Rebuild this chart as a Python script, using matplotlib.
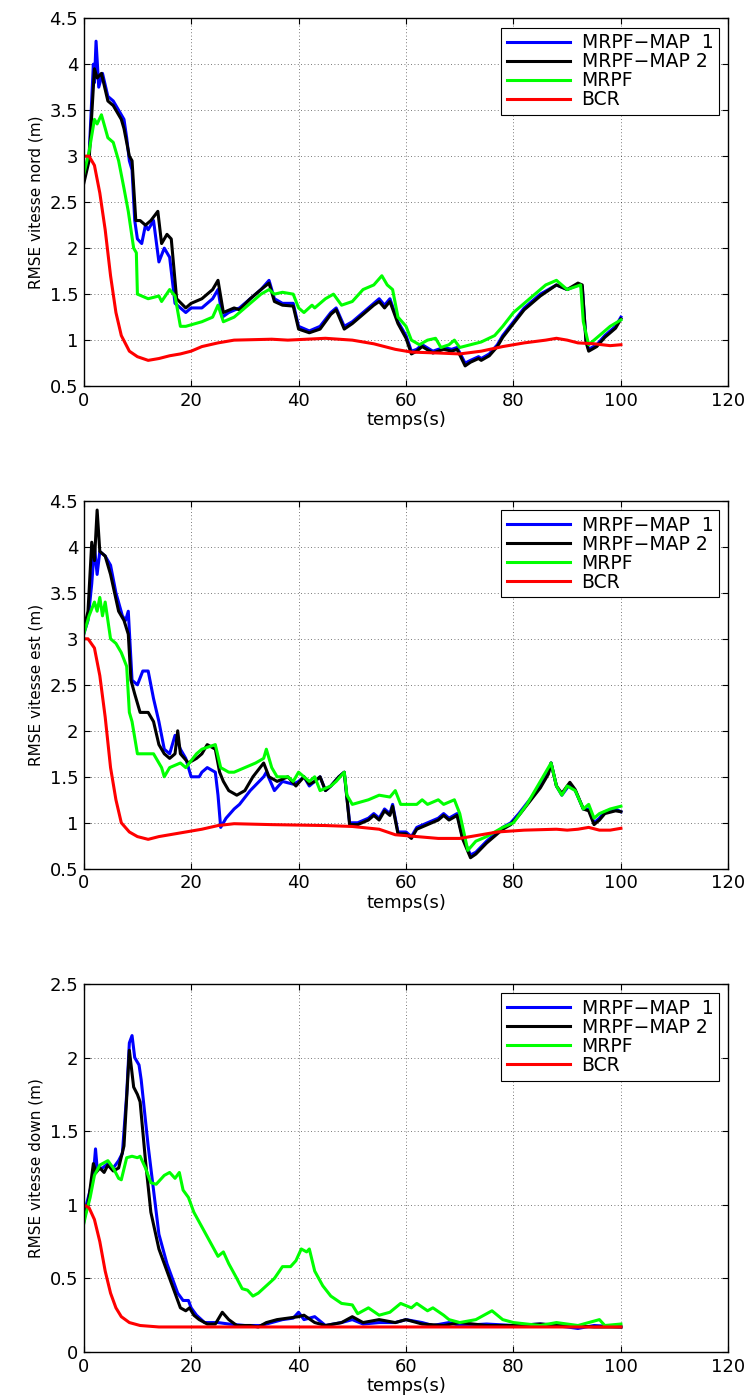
import matplotlib
matplotlib.use('Agg')
import matplotlib.pyplot as plt

plt.rcParams['font.family'] = ['DejaVu Sans']
plt.rcParams['font.size'] = 13

labels = ['MRPF\u2212MAP  1', 'MRPF\u2212MAP 2', 'MRPF', 'BCR']
colors = ['#0000ff', '#000000', '#00ff00', '#ff0000']

# ---- vitesse nord ----
n_map1_t = [0, 1, 1.8, 2.0, 2.3, 2.8, 3.5, 4.5, 5.5, 6.5, 7.5, 8, 8.5, 9, 9.5, 10, 10.8, 11.5, 12, 13, 14, 15, 16, 17, 19, 20, 22, 24, 25, 25.8, 27, 29, 31, 33, 34.5, 35.5, 37, 39, 40, 42, 44, 46, 47, 48.5, 50, 52, 54, 55, 56, 57, 58.5, 60, 61, 62, 63, 65, 67, 68.5, 69.5, 71, 72, 73.5, 74, 75.5, 77, 78, 80, 82, 85, 88, 90, 92, 92.8, 93.5, 94, 95.5, 97, 99, 100]
n_map1 = [2.75, 3.0, 4.0, 3.8, 4.25, 3.75, 3.9, 3.65, 3.6, 3.5, 3.4, 3.2, 2.95, 2.85, 2.3, 2.1, 2.05, 2.25, 2.2, 2.3, 1.85, 2.0, 1.9, 1.4, 1.3, 1.35, 1.35, 1.45, 1.55, 1.25, 1.3, 1.35, 1.45, 1.55, 1.65, 1.45, 1.4, 1.4, 1.15, 1.1, 1.15, 1.3, 1.35, 1.15, 1.2, 1.3, 1.4, 1.45, 1.38, 1.45, 1.2, 1.05, 0.88, 0.9, 0.95, 0.88, 0.92, 0.9, 0.92, 0.75, 0.78, 0.82, 0.8, 0.85, 0.95, 1.05, 1.2, 1.35, 1.5, 1.6, 1.55, 1.6, 1.58, 1.0, 0.9, 0.95, 1.05, 1.15, 1.25]
n_map2_t = [0, 1, 2, 2.5, 3.3, 4.5, 5.5, 7, 7.5, 8.5, 9, 9.7, 10.5, 11.5, 12.5, 13.8, 14.5, 15.5, 16.3, 17.3, 19, 20, 22, 24, 25, 26, 28, 29, 31, 33, 34.5, 35.5, 37, 39, 40, 42, 44, 46, 47, 48.5, 50, 52, 54, 55, 56, 57, 58.5, 60, 61, 62, 63, 65, 67, 68.5, 69.5, 71, 72, 73.5, 74, 75.5, 77, 78, 80, 82, 85, 88, 90, 92, 92.8, 93.5, 94, 95.5, 97, 99, 100]
n_map2 = [2.7, 2.95, 3.95, 3.85, 3.9, 3.6, 3.55, 3.4, 3.3, 3.0, 2.95, 2.3, 2.3, 2.25, 2.3, 2.4, 2.05, 2.15, 2.1, 1.45, 1.35, 1.4, 1.45, 1.55, 1.65, 1.3, 1.35, 1.33, 1.45, 1.55, 1.62, 1.42, 1.38, 1.37, 1.12, 1.08, 1.12, 1.28, 1.33, 1.12, 1.18, 1.28, 1.38, 1.42, 1.35, 1.42, 1.18, 1.02, 0.85, 0.88, 0.93, 0.86, 0.9, 0.88, 0.9, 0.72, 0.76, 0.8, 0.78, 0.83, 0.93, 1.03, 1.18, 1.33, 1.48, 1.6, 1.55, 1.62, 1.6, 0.98, 0.88, 0.93, 1.03, 1.13, 1.23]
n_mrpf_t = [0, 1, 2, 2.5, 3.3, 4.5, 5.5, 6.5, 7.5, 8.3, 9.3, 9.8, 10, 12, 14, 14.5, 16, 17, 18, 19, 22, 24, 25, 26, 28, 31, 33, 34.5, 35.5, 37, 39, 40, 41, 42.5, 43, 45, 46.5, 48, 50, 52, 54, 55.5, 56.5, 57.5, 58.5, 60, 61, 62.5, 64, 65.5, 66.5, 68, 69, 70, 72, 74, 76.5, 78, 80, 83, 86, 88, 90, 92.5, 93, 94, 96, 98, 100]
n_mrpf = [2.8, 3.05, 3.4, 3.35, 3.45, 3.2, 3.15, 2.95, 2.65, 2.4, 2.0, 1.95, 1.5, 1.45, 1.48, 1.42, 1.55, 1.48, 1.15, 1.15, 1.2, 1.25, 1.38, 1.2, 1.25, 1.4, 1.5, 1.55, 1.5, 1.52, 1.5, 1.35, 1.3, 1.38, 1.35, 1.45, 1.5, 1.38, 1.42, 1.55, 1.6, 1.7, 1.6, 1.55, 1.25, 1.15, 1.0, 0.95, 1.0, 1.02, 0.92, 0.95, 1.0, 0.92, 0.95, 0.98, 1.05, 1.15, 1.3, 1.45, 1.6, 1.65, 1.55, 1.6, 1.2, 0.95, 1.05, 1.15, 1.22]
n_bcr_t = [0, 1, 2, 3, 4, 5, 6, 7, 8.5, 10, 12, 14, 16, 18, 20, 22, 25, 28, 35, 38, 45, 50, 54, 58, 61, 66, 70, 74, 78, 82, 86, 88, 90, 92, 95, 98, 100]
n_bcr = [3.0, 3.0, 2.9, 2.6, 2.2, 1.7, 1.3, 1.05, 0.88, 0.82, 0.78, 0.8, 0.83, 0.85, 0.88, 0.93, 0.97, 1.0, 1.01, 1.0, 1.02, 1.0, 0.96, 0.9, 0.87, 0.86, 0.85, 0.88, 0.93, 0.97, 1.0, 1.02, 1.0, 0.97, 0.96, 0.94, 0.95]

# ---- vitesse est ----
e_map1_t = [0, 0.8, 1.5, 2, 2.5, 3, 4, 5, 6, 7.2, 7.8, 8.3, 9, 10, 11, 12, 13, 14, 15, 16, 17, 18, 19, 20, 21.5, 22, 23, 24.5, 25, 25.5, 26.5, 28, 29, 31, 33.5, 34, 35.5, 37, 39, 40, 41, 42, 43, 44, 45, 46, 47.5, 48.5, 49.5, 51, 53, 54, 55, 56, 57, 57.5, 58.5, 60, 61, 62, 64, 66, 67, 68, 69.5, 70.5, 72, 73, 75, 78, 79.5, 81, 83, 85, 86.5, 87, 88, 89, 90.5, 91.5, 93, 94, 95, 96, 97, 99, 100]
e_map1 = [3.05, 3.2, 3.6, 4.0, 3.7, 3.95, 3.9, 3.8, 3.5, 3.25, 3.2, 3.3, 2.55, 2.5, 2.65, 2.65, 2.35, 2.1, 1.8, 1.75, 1.95, 1.8, 1.7, 1.5, 1.5, 1.55, 1.6, 1.55, 1.3, 0.95, 1.05, 1.15, 1.2, 1.35, 1.5, 1.55, 1.35, 1.45, 1.42, 1.45, 1.5, 1.4, 1.45, 1.5, 1.35, 1.4, 1.5, 1.55, 1.0, 1.0, 1.05, 1.1, 1.05, 1.15, 1.1, 1.2, 0.9, 0.9, 0.85, 0.95, 1.0, 1.05, 1.1, 1.05, 1.1, 0.85, 0.65, 0.68, 0.8, 0.95, 1.0, 1.1, 1.25, 1.4, 1.55, 1.65, 1.4, 1.3, 1.42, 1.35, 1.15, 1.15, 1.0, 1.05, 1.12, 1.15, 1.12]
e_map2_t = [0, 0.8, 1.5, 2, 2.5, 3, 4, 5, 6.5, 7.5, 8.3, 8.8, 9.5, 10.5, 12, 13, 14, 15, 16, 17, 17.5, 18, 19.5, 21, 22, 23, 24.5, 25.3, 26, 27, 28.5, 30, 31.5, 33.5, 34.5, 36, 38, 39.5, 41, 42, 43, 44, 45, 46, 47.5, 48.5, 49.5, 51, 53, 54, 55, 56, 57, 57.5, 58.5, 60, 61, 62, 64, 66, 67, 68, 69.5, 70.5, 72, 73, 75, 78, 79.5, 81, 83, 85, 86.5, 87, 88, 89, 90.5, 91.5, 93, 94, 95, 96, 97, 99, 100]
e_map2 = [3.1, 3.3, 4.05, 3.85, 4.4, 3.95, 3.9, 3.7, 3.3, 3.2, 3.05, 2.55, 2.4, 2.2, 2.2, 2.1, 1.85, 1.75, 1.7, 1.75, 2.0, 1.75, 1.65, 1.7, 1.75, 1.85, 1.8, 1.55, 1.45, 1.35, 1.3, 1.35, 1.5, 1.65, 1.5, 1.45, 1.5, 1.4, 1.5, 1.42, 1.45, 1.5, 1.35, 1.4, 1.5, 1.55, 0.98, 0.98, 1.03, 1.08, 1.03, 1.13, 1.08, 1.18, 0.88, 0.88, 0.83, 0.93, 0.98, 1.03, 1.08, 1.03, 1.08, 0.83, 0.62, 0.66, 0.78, 0.93, 0.98, 1.08, 1.23, 1.38, 1.53, 1.65, 1.4, 1.32, 1.44, 1.36, 1.15, 1.13, 0.98, 1.03, 1.1, 1.13, 1.12]
e_mrpf_t = [0, 1, 2, 2.5, 3, 3.5, 4, 5, 6, 7, 8, 8.5, 9, 10, 13, 14.5, 15, 16, 18, 19, 21, 22, 24.5, 25.5, 27, 28, 30, 32, 33.5, 34, 35, 36, 38, 39, 40, 42, 43, 44, 46, 47, 48.5, 49, 50, 53, 55, 57, 58, 59, 62, 63, 64, 66, 67, 69, 70, 71.5, 73, 75, 78, 80, 82.5, 84, 86, 87, 88, 89, 90, 91.5, 93, 94, 95, 96, 98, 100]
e_mrpf = [3.05, 3.25, 3.4, 3.3, 3.45, 3.25, 3.4, 3.0, 2.95, 2.85, 2.7, 2.2, 2.1, 1.75, 1.75, 1.6, 1.5, 1.6, 1.65, 1.6, 1.75, 1.8, 1.85, 1.6, 1.55, 1.55, 1.6, 1.65, 1.7, 1.8, 1.6, 1.5, 1.5, 1.45, 1.55, 1.45, 1.5, 1.35, 1.4, 1.45, 1.55, 1.3, 1.2, 1.25, 1.3, 1.28, 1.35, 1.2, 1.2, 1.25, 1.2, 1.25, 1.2, 1.25, 1.1, 0.7, 0.8, 0.85, 0.95, 1.0, 1.2, 1.35, 1.55, 1.65, 1.4, 1.3, 1.4, 1.35, 1.15, 1.2, 1.05, 1.1, 1.15, 1.18]
e_bcr_t = [0, 0.8, 2, 3, 4, 5, 6, 7, 8.5, 10, 12, 14, 16, 19, 22, 25, 28, 35, 45, 50, 55, 58, 62, 66, 70, 73, 77, 82, 88, 90, 92, 94, 96, 98, 100]
e_bcr = [3.0, 3.0, 2.9, 2.6, 2.15, 1.6, 1.25, 1.0, 0.9, 0.85, 0.82, 0.85, 0.87, 0.9, 0.93, 0.97, 0.99, 0.98, 0.97, 0.96, 0.93, 0.87, 0.85, 0.83, 0.83, 0.86, 0.9, 0.92, 0.93, 0.92, 0.93, 0.95, 0.92, 0.92, 0.94]

# ---- vitesse down ----
d_map1_t = [0, 0.5, 1.2, 1.8, 2.2, 2.5, 3.5, 4.5, 5.5, 6.5, 7.2, 8, 8.5, 9, 9.5, 10.3, 10.7, 12, 13, 14, 15.5, 16.5, 17.5, 18.5, 19.5, 20, 21, 22.5, 25, 27, 30, 33, 35, 37, 39, 40, 41, 43, 45, 48, 50, 52, 55, 58, 60, 63, 65, 68, 70, 75, 80, 85, 90, 92, 95, 100]
d_map1 = [0.88, 1.0, 1.1, 1.2, 1.38, 1.25, 1.25, 1.28, 1.25, 1.3, 1.35, 1.75, 2.1, 2.15, 2.0, 1.95, 1.85, 1.4, 1.1, 0.8, 0.6, 0.5, 0.4, 0.35, 0.35, 0.3, 0.25, 0.2, 0.2, 0.19, 0.18, 0.18, 0.2, 0.22, 0.23, 0.27, 0.22, 0.24, 0.18, 0.2, 0.22, 0.19, 0.2, 0.2, 0.22, 0.2, 0.18, 0.2, 0.18, 0.19, 0.18, 0.19, 0.17, 0.16, 0.18, 0.17]
d_map2_t = [0, 0.8, 1.8, 2.3, 3, 3.8, 4.5, 5.5, 6.5, 7.5, 8.5, 9.3, 10, 10.5, 11.5, 12.5, 14, 15.5, 16.5, 18, 19, 19.7, 20.5, 21.5, 23, 24.5, 25.8, 27, 28.5, 31, 32.5, 34, 36, 38, 40, 41, 43, 45, 48, 50, 52, 55, 58, 60, 63, 67, 70, 75, 80, 85, 90, 95, 100]
d_map2 = [0.9, 1.0, 1.28, 1.22, 1.25, 1.22, 1.27, 1.23, 1.25, 1.4, 2.05, 1.8, 1.75, 1.7, 1.3, 0.95, 0.7, 0.55, 0.45, 0.3, 0.28, 0.3, 0.25, 0.22, 0.19, 0.19, 0.27, 0.22, 0.18, 0.18, 0.17, 0.2, 0.22, 0.23, 0.24, 0.25, 0.2, 0.18, 0.2, 0.24, 0.2, 0.22, 0.2, 0.22, 0.19, 0.18, 0.2, 0.18, 0.18, 0.19, 0.18, 0.17, 0.17]
d_mrpf_t = [0, 0.5, 1.2, 2, 3, 4.5, 5.5, 6.5, 7, 8, 9, 10, 10.5, 11.5, 12.5, 13.5, 15, 16, 17, 17.8, 18.5, 19.5, 20.5, 22, 23.5, 25, 26, 27, 28.5, 29.5, 30.5, 31.5, 32.5, 34, 35.5, 37, 38.5, 39.5, 40.5, 41.5, 42, 43, 44.5, 46, 48, 50, 51, 53, 55, 57, 59, 61, 62, 64, 65, 67, 68, 70, 73, 76, 78, 80, 85, 88, 92, 96, 97, 100]
d_mrpf = [0.87, 0.95, 1.05, 1.2, 1.27, 1.3, 1.25, 1.18, 1.17, 1.32, 1.33, 1.32, 1.33, 1.25, 1.15, 1.14, 1.2, 1.22, 1.18, 1.22, 1.1, 1.05, 0.95, 0.85, 0.75, 0.65, 0.68, 0.6, 0.5, 0.43, 0.42, 0.38, 0.4, 0.45, 0.5, 0.58, 0.58, 0.62, 0.7, 0.68, 0.7, 0.55, 0.45, 0.38, 0.33, 0.32, 0.26, 0.3, 0.25, 0.27, 0.33, 0.3, 0.33, 0.28, 0.3, 0.25, 0.22, 0.2, 0.22, 0.28, 0.22, 0.2, 0.18, 0.2, 0.18, 0.22, 0.18, 0.19]
d_bcr_t = [0, 1, 2, 3, 4, 5, 6, 7, 8.5, 10.5, 14, 100]
d_bcr = [1.0, 0.98, 0.9, 0.75, 0.55, 0.4, 0.3, 0.24, 0.2, 0.18, 0.17, 0.17]

panels = [
    ([(n_map1_t, n_map1), (n_map2_t, n_map2), (n_mrpf_t, n_mrpf), (n_bcr_t, n_bcr)],
     'RMSE vitesse nord (m)', (0.5, 4.5), [0.5, 1, 1.5, 2, 2.5, 3, 3.5, 4, 4.5], 0.724),
    ([(e_map1_t, e_map1), (e_map2_t, e_map2), (e_mrpf_t, e_mrpf), (e_bcr_t, e_bcr)],
     'RMSE vitesse est (m)', (0.5, 4.5), [0.5, 1, 1.5, 2, 2.5, 3, 3.5, 4, 4.5], 0.379),
    ([(d_map1_t, d_map1), (d_map2_t, d_map2), (d_mrpf_t, d_mrpf), (d_bcr_t, d_bcr)],
     'RMSE vitesse down (m)', (0, 2.5), [0, 0.5, 1, 1.5, 2, 2.5], 0.0336),
]

fig = plt.figure(figsize=(7.54, 13.99), dpi=100)

for series, ylab, ylim, yticks, bottom in panels:
    ax = fig.add_axes([0.111, bottom, 0.855, 0.263])
    for (t, v), c, lab in zip(series, colors, labels):
        ax.plot(t, v, color=c, lw=2.2, label=lab)
    ax.set_xlim(0, 120)
    ax.set_ylim(*ylim)
    ax.set_xticks([0, 20, 40, 60, 80, 100, 120])
    ax.set_yticks(yticks)
    ax.set_yticklabels(['%g' % y for y in yticks])
    ax.set_xlabel('temps(s)', fontsize=13, labelpad=1)
    ax.set_ylabel(ylab, fontsize=11, labelpad=4)
    ax.tick_params(direction='in', top=True, right=True, length=4, labelsize=13, pad=4)
    ax.grid(True, linestyle=(0, (1, 3)), color='black', lw=0.6, alpha=0.7)
    for s in ax.spines.values():
        s.set_linewidth(1.0)
    leg = ax.legend(loc='upper right', fancybox=False, framealpha=1, edgecolor='black',
                    handlelength=3.4, handletextpad=0.6, fontsize=13.5,
                    borderaxespad=0.5, labelspacing=0.0, borderpad=0.3)
    leg.get_frame().set_linewidth(0.8)

fig.savefig('out.png', dpi=100)
